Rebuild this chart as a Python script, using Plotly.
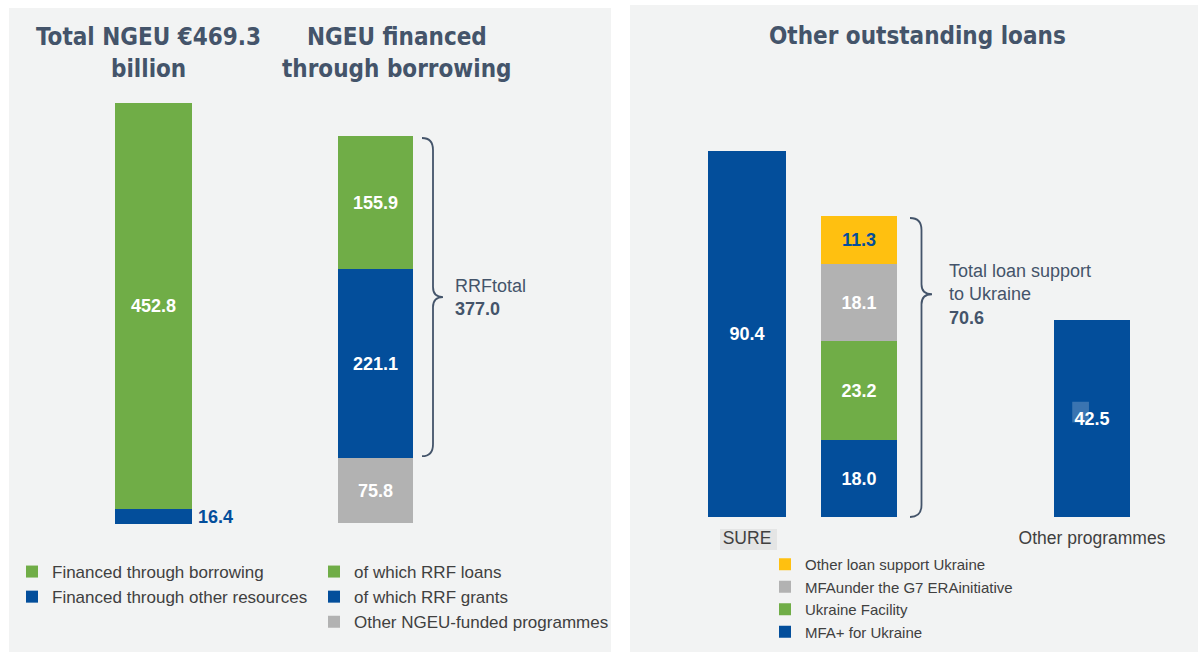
import plotly.graph_objects as go

W, H = 1198, 652

# ---------------- data ----------------
total_cat = ["Total NGEU"]
ngeu_financed_borrowing = [452.8]
ngeu_financed_other = [16.4]

borrow_cat = ["NGEU financed through borrowing"]
rrf_loans = [155.9]
rrf_grants = [221.1]
other_ngeu_programmes = [75.8]
rrf_total = 377.0

sure_cat = ["SURE"]
sure_values = [90.4]

ukr_cat = ["Ukraine"]
mfa_plus_ukraine = [18.0]
ukraine_facility = [23.2]
mfa_g7_era = [18.1]
other_loan_support_ukraine = [11.3]
ukraine_total = 70.6

other_cat = ["Other programmes"]
other_values = [42.5]

# ---------------- styles ----------------
BLUE = "#034e9b"
GREEN = "#70ad47"
GREY = "#b2b2b2"
YELLOW = "#ffc010"
SLATE = "#44546a"
TXT = "#404040"
PANEL = "#f2f3f3"
SANS = "Liberation Sans, Arial, sans-serif"
NARROW = "DejaVu Sans Condensed, Liberation Sans Narrow, sans-serif"


def xdom(l, r):
    return [l / W, r / W]


def ydom(top, bottom):
    return [(H - bottom) / H, (H - top) / H]


# subplot placement (pixel boxes of each bar column)
subs = {
    1: (xdom(115, 192), ydom(103, 524), sum(ngeu_financed_borrowing + ngeu_financed_other)),
    2: (xdom(338, 413), ydom(136, 523), sum(rrf_loans + rrf_grants + other_ngeu_programmes)),
    3: (xdom(708, 786), ydom(151, 517), sum(sure_values)),
    4: (xdom(821, 897), ydom(216, 517),
        sum(mfa_plus_ukraine + ukraine_facility + mfa_g7_era + other_loan_support_ukraine)),
    5: (xdom(1054, 1130), ydom(320, 517), sum(other_values)),
}


def ax(n, kind):
    return kind if n == 1 else f"{kind}{n}"


def ypx(n, v):
    d = subs[n][1]
    return H - (d[0] + (d[1] - d[0]) * v / subs[n][2]) * H


fig = go.Figure()


def add_bar(n, cat, vals, color, name, legend=None, show_text=True, textcolor="white"):
    fig.add_trace(go.Bar(
        x=cat, y=vals, name=name,
        xaxis=ax(n, "x"), yaxis=ax(n, "y"),
        width=1,
        marker=dict(color=color, line=dict(width=0)),
        texttemplate="%{y:.1f}" if show_text else None,
        textposition="inside" if show_text else "none",
        insidetextanchor="middle",
        textangle=0,
        textfont=dict(family=SANS, size=18, color=textcolor, weight="bold"),
        showlegend=legend is not None,
        legend=legend if legend else "legend",
        hoverinfo="skip",
    ))


# Left panel
add_bar(1, total_cat, ngeu_financed_other, BLUE, "Financed through other resources", "legend", show_text=False)
add_bar(1, total_cat, ngeu_financed_borrowing, GREEN, "Financed through borrowing", "legend")
add_bar(2, borrow_cat, other_ngeu_programmes, GREY, "Other NGEU-funded programmes", "legend2")
add_bar(2, borrow_cat, rrf_grants, BLUE, "of which RRF grants", "legend2")
add_bar(2, borrow_cat, rrf_loans, GREEN, "of which RRF loans", "legend2")
# Right panel
add_bar(3, sure_cat, sure_values, BLUE, "SURE")
add_bar(4, ukr_cat, mfa_plus_ukraine, BLUE, "MFA+ for Ukraine", "legend3")
add_bar(4, ukr_cat, ukraine_facility, GREEN, "Ukraine Facility", "legend3")
add_bar(4, ukr_cat, mfa_g7_era, GREY, "MFAunder the G7 ERAinitiative", "legend3")
add_bar(4, ukr_cat, other_loan_support_ukraine, YELLOW, "Other loan support Ukraine", "legend3",
        textcolor=BLUE)
add_bar(5, other_cat, other_values, BLUE, "Other programmes")

layout = dict(
    width=W, height=H, barmode="stack",
    margin=dict(l=0, r=0, t=0, b=0, pad=0, autoexpand=False),
    paper_bgcolor="white", plot_bgcolor="rgba(0,0,0,0)",
    font=dict(family=SANS, color=TXT),
)
for n, (xd, yd, top) in subs.items():
    layout[ax(n, "xaxis")] = dict(
        domain=xd, anchor=ax(n, "y"), type="category", range=[-0.5, 0.5],
        showgrid=False, zeroline=False, showline=False, ticks="", automargin=False,
        showticklabels=n in (3, 5), ticklabelstandoff=8,
        tickfont=dict(family=SANS, size=17.5, color=TXT), fixedrange=True,
    )
    layout[ax(n, "yaxis")] = dict(domain=yd, anchor=ax(n, "x"), range=[0, top],
                                  visible=False, fixedrange=True, automargin=False)

leg_common = dict(xanchor="left", yanchor="top", bgcolor="rgba(0,0,0,0)", borderwidth=0,
                  traceorder="reversed", itemclick=False, itemdoubleclick=False)
layout["legend"] = dict(leg_common, x=12 / W, y=(H - 554) / H,
                        font=dict(family=SANS, size=17, color=TXT))
layout["legend2"] = dict(leg_common, x=314 / W, y=(H - 554) / H,
                         font=dict(family=SANS, size=17, color=TXT))
layout["legend3"] = dict(leg_common, x=765 / W, y=(H - 548) / H,
                         font=dict(family=SANS, size=15, color=TXT))

fig.update_layout(**layout)

# ---------------- panels ----------------
fig.add_shape(type="rect", xref="paper", yref="paper", x0=9 / W, x1=611 / W, y0=0, y1=(H - 8) / H,
              fillcolor=PANEL, line_width=0, layer="below")
fig.add_shape(type="rect", xref="paper", yref="paper", x0=630 / W, x1=1, y0=0, y1=(H - 5) / H,
              fillcolor=PANEL, line_width=0, layer="below")
# highlight behind the SURE label
fig.add_shape(type="rect", xref="paper", yref="paper", x0=720 / W, x1=777 / W,
              y0=(H - 550) / H, y1=(H - 529) / H, fillcolor="#e4e5e5", line_width=0, layer="below")


# ---------------- braces ----------------
def brace(x0, xm, xt, ytop, ybot, ytip, r=12, rt=10):
    P = lambda x, y: f"{x / W:.5f},{(H - y) / H:.5f}"
    return (f"M{P(x0, ytop)} Q{P(xm, ytop)} {P(xm, ytop + r)} L{P(xm, ytip - rt)} "
            f"Q{P(xm, ytip)} {P(xt, ytip)} Q{P(xm, ytip)} {P(xm, ytip + rt)} "
            f"L{P(xm, ybot - r)} Q{P(xm, ybot)} {P(x0, ybot)}")


lt, lb = ypx(2, subs[2][2]), ypx(2, other_ngeu_programmes[0])
ltip = (lt + lb) / 2
fig.add_shape(type="path", xref="paper", yref="paper",
              path=brace(422, 433, 443, lt + 2, lb - 2, ltip), line=dict(color=SLATE, width=1.8))

rt_, rb = ypx(4, ukraine_total), ypx(4, 0)
rtip = rt_ + 0.26 * (rb - rt_)
fig.add_shape(type="path", xref="paper", yref="paper",
              path=brace(910, 921.5, 932, rt_ + 2, rb, rtip), line=dict(color=SLATE, width=1.8))

# subtle highlight square seen behind the "4" of 42.5
fig.add_shape(type="rect", xref="x5 domain", yref="y5", x0=0.24, x1=0.46,
              y0=other_values[0] * 0.48, y1=other_values[0] * 0.585,
              fillcolor="rgba(255,255,255,0.22)", line_width=0, layer="above")

# ---------------- annotations ----------------
def title(text, cx, cy):
    fig.add_annotation(text=f"<b>{text}</b>", x=cx / W, y=(H - cy) / H, xref="paper", yref="paper",
                       showarrow=False, xanchor="center", yanchor="middle",
                       font=dict(family=NARROW, size=24, color=SLATE))


title("Total NGEU €469.3", 148, 37)
title("billion", 148, 69)
title("NGEU financed", 397, 37)
title("through borrowing", 397, 69)
title("Other outstanding loans", 917, 36)

fig.add_annotation(text=f"{ngeu_financed_other[0]:.1f}", xref="x domain", yref="y", x=1,
                   y=ngeu_financed_other[0] / 2, xanchor="left", yanchor="middle", xshift=4,
                   showarrow=False, font=dict(family=SANS, size=18, color=BLUE, weight="bold"))

fig.add_annotation(text=f"RRFtotal<br><b>{rrf_total:.1f}</b>", xref="paper", yref="paper",
                   x=453 / W, y=(H - ltip) / H, xanchor="left", yanchor="middle", align="left",
                   showarrow=False, font=dict(family=SANS, size=18, color=SLATE))
fig.add_annotation(text=f"Total loan support<br>to Ukraine<br><b>{ukraine_total:.1f}</b>",
                   xref="paper", yref="paper", x=947 / W, y=(H - rtip) / H, xanchor="left",
                   yanchor="middle", align="left", showarrow=False,
                   font=dict(family=SANS, size=18, color=SLATE))

fig.write_html("out.html", config={"displayModeBar": False},
               post_script="document.body.style.margin='0';")
